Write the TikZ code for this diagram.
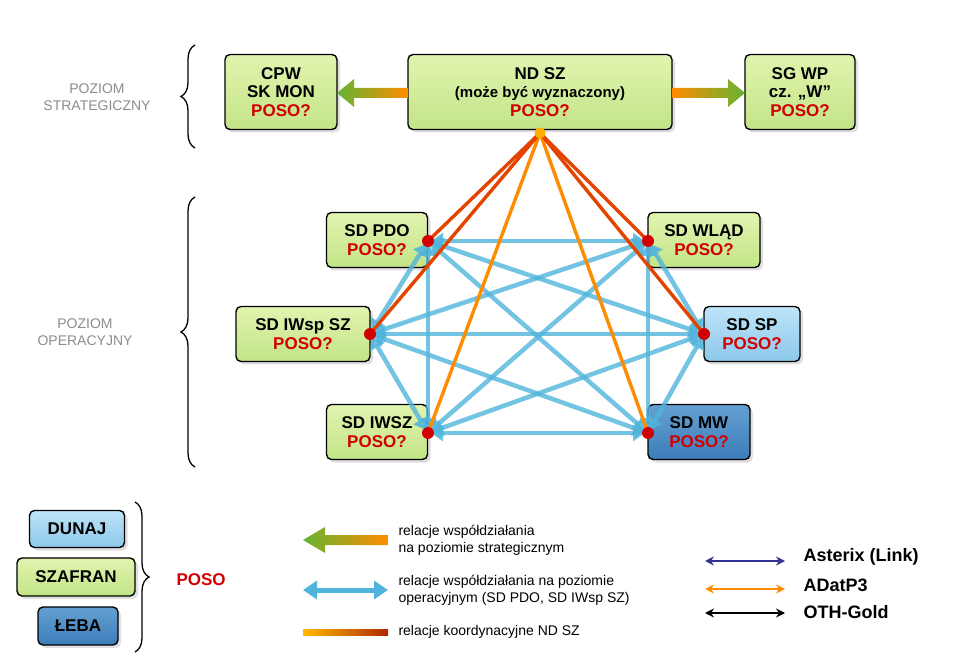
\documentclass[tikz,border=0pt]{standalone}
\usepackage{fontspec}
\setmainfont{Liberation Sans}
\usetikzlibrary{arrows.meta,shadows,decorations.pathreplacing}
\definecolor{gA}{RGB}{225,244,175}
\definecolor{gB}{RGB}{195,228,135}
\definecolor{lbA}{RGB}{190,228,248}
\definecolor{lbB}{RGB}{140,200,235}
\definecolor{dbA}{RGB}{100,160,210}
\definecolor{dbB}{RGB}{60,125,185}
\definecolor{pred}{RGB}{210,0,0}
\definecolor{sky}{RGB}{80,180,220}
\definecolor{ndor}{RGB}{255,140,0}
\definecolor{ndred}{RGB}{220,50,0}
\definecolor{grn}{RGB}{100,180,50}
\definecolor{grayt}{RGB}{140,140,140}
\definecolor{navy}{RGB}{50,50,150}
\tikzset{
 box/.style={draw=black,line width=1.4pt,rounded corners=5pt,align=center,font=\bfseries\fontsize{17}{18.5}\selectfont,inner sep=0pt,drop shadow={opacity=0.25,shadow xshift=3pt,shadow yshift=-3pt}},
 gbox/.style={box,top color=gA,bottom color=gB},
 lbox/.style={box,top color=lbA,bottom color=lbB},
 dbox/.style={box,top color=dbA,bottom color=dbB},
 op/.style={draw=sky,opacity=0.8,line width=4.5pt,{Triangle[length=12pt,width=16pt]}-{Triangle[length=12pt,width=16pt]},shorten <=3pt,shorten >=3pt},
 nd/.style={line width=3.4pt},
 dot/.style={circle,fill=pred,minimum size=12pt,inner sep=0pt},
 lev/.style={font=\fontsize{14}{17}\selectfont,text=grayt,align=center},
 brace/.style={decorate,decoration={brace,amplitude=14pt},line width=1.3pt},
 leg/.style={font=\fontsize{14}{17}\selectfont,align=left,anchor=west},
 legb/.style={font=\bfseries\fontsize{18}{20}\selectfont,anchor=west},
 thin/.style={line width=2.5pt,{Stealth[length=9pt,width=9pt]}-{Stealth[length=9pt,width=9pt]}},
}
\newcommand{\pq}{\textcolor{pred}{POSO?}}
\newcommand{\bx}[6]{\node[#1,minimum width=#4pt,minimum height=#5pt] (#2) at (#3) {#6};}
\begin{document}
\begin{tikzpicture}[x=1pt,y=-1pt]
\useasboundingbox (0,0) rectangle (959,660);
\bx{gbox}{cpw}{281,92}{112}{75}{CPW\\SK MON\\\pq}
\bx{gbox}{nd}{540,92}{264}{75}{ND SZ\\{\fontsize{15}{17}\selectfont(może być wyznaczony)}\\\pq}
\bx{gbox}{sgwp}{800,92}{110}{75}{SG WP\\cz. „W”\\\pq}
\shade[left color=grn,right color=ndor] (337,93) -- (354,79) -- (354,88) -- (408,88) -- (408,98) -- (354,98) -- (354,107) -- cycle;
\shade[right color=grn,left color=ndor] (745,93) -- (728,79) -- (728,88) -- (672,88) -- (672,98) -- (728,98) -- (728,107) -- cycle;
\bx{gbox}{pdo}{377,240}{101}{55}{SD PDO\\\pq}
\bx{gbox}{wlad}{704,240}{112}{55}{SD WLĄD\\\pq}
\bx{gbox}{iwsp}{303,334}{134}{55}{SD IWsp SZ\\\pq}
\bx{lbox}{sp}{752,334}{96}{55}{SD SP\\\pq}
\bx{gbox}{iwsz}{377,432}{101}{55}{SD IWSZ\\\pq}
\bx{dbox}{mw}{699,432}{102}{55}{SD MW\\\pq}
\coordinate (pA) at (428,241);
\coordinate (pB) at (648,241);
\coordinate (pC) at (370,334);
\coordinate (pD) at (704,334);
\coordinate (pE) at (428,433);
\coordinate (pF) at (648,433);
\coordinate (pN) at (540,133);
\foreach \a/\b in {pA/pB,pA/pC,pA/pD,pA/pE,pA/pF,pB/pC,pB/pD,pB/pE,pB/pF,pC/pD,pC/pE,pC/pF,pD/pE,pD/pF,pE/pF}
  \draw[op] (\a) -- (\b);
\draw[nd,color=ndor] (pN) -- (pE);
\draw[nd,color=ndor] (pN) -- (pF);
\draw[nd,color=ndred!80!ndor] (pN) -- (pA);
\draw[nd,color=ndred!80!ndor] (pN) -- (pC);
\draw[nd,color=ndred!80!ndor] (pN) -- (pB);
\draw[nd,color=ndred!80!ndor] (pN) -- (pD);
\foreach \p in {pA,pB,pC,pD,pE,pF} \node[dot] at (\p) {};
\node[circle,fill=ndor!70!yellow,minimum size=11pt,inner sep=0pt] (ndp) at (pN) {};
\draw[brace] (195,148) -- (195,45);
\draw[brace] (195,467) -- (195,197);
\node[lev] (ls) at (97,97) {POZIOM\\STRATEGICZNY};
\node[lev] (lo) at (85,332) {POZIOM\\OPERACYJNY};
\bx{lbox}{dunaj}{77,529}{95}{37}{DUNAJ}
\bx{gbox}{szafran}{76,577}{118}{38}{SZAFRAN}
\bx{dbox}{leba}{78,626}{80}{38}{ŁEBA}
\draw[brace] (135,502) -- (135,652);
\node[font=\bfseries\fontsize{17}{18}\selectfont,text=pred,anchor=west] (poso) at (173,580) {POSO};
\shade[left color=grn,right color=ndor] (303,540) -- (325,527) -- (325,535) -- (388,535) -- (388,545) -- (325,545) -- (325,553) -- cycle;
\node[leg] (l1) at (395,540) {relacje współdziałania\\na poziomie strategicznym};
\draw[draw=sky,line width=5pt,{Triangle[length=14pt,width=18pt]}-{Triangle[length=14pt,width=18pt]}] (303,590) coordinate (b1) -- (388,590) coordinate (b2);
\node[leg] (l2) at (395,590) {relacje współdziałania na poziomie\\operacyjnym (SD PDO, SD IWsp SZ)};
\shade[left color=ndor!60!yellow,right color=ndred!80!black] (303,629) rectangle (388,635);
\node[leg] (l3) at (395,632) {relacje koordynacyjne ND SZ};
\draw[thin,draw=navy] (705,561) coordinate (c1) -- (785,561) coordinate (c2);
\draw[thin,draw=ndor] (705,589) coordinate (c3) -- (785,589) coordinate (c4);
\draw[thin,draw=black] (705,613) coordinate (c5) -- (785,613) coordinate (c6);
\node[legb] (a1) at (800,557) {Asterix (Link)};
\node[legb] (a2) at (800,585) {ADatP3};
\node[legb] (a3) at (800,612) {OTH-Gold};
\end{tikzpicture}
\end{document}
